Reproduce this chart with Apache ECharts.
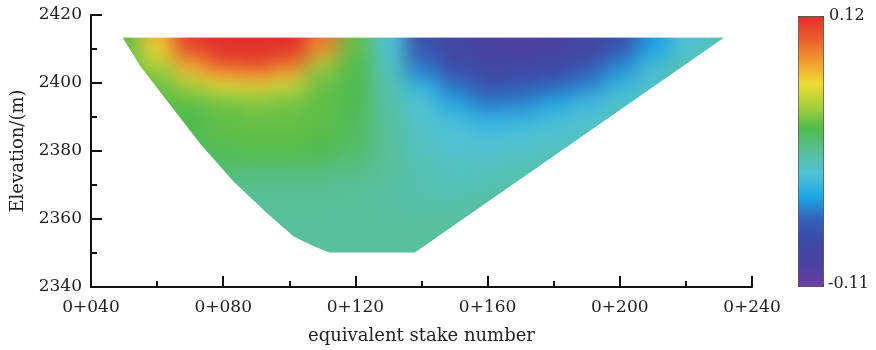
<!DOCTYPE html>
<html>
<head>
<meta charset="utf-8">
<script src="https://cdn.jsdelivr.net/npm/echarts@6/dist/echarts.min.js"></script>
<style>
html, body { margin: 0; padding: 0; background: #fff; }
.wrap { position: relative; width: 876px; height: 350px; overflow: hidden; }
.layer { position: absolute; left: 0; top: 0; width: 876px; height: 350px; }
#field { filter: blur(10px); }
</style>
</head>
<body>
<div class="wrap">
  <div id="field" class="layer"></div>
  <div id="chart" class="layer"></div>
</div>
<script>
// stake (x) and elevation (y) of the sampled cells
const stakes = [40, 50, 60, 70, 80, 90, 100, 110, 120, 130, 140, 150, 160, 170, 180, 190, 200, 210, 220, 230, 240];
const elevations = [2420, 2415, 2410, 2405, 2400, 2395, 2390, 2385, 2380, 2375, 2370, 2365, 2360, 2355, 2350, 2345];
const stepX = 10;
const stepY = 5;

// values, one row per elevation (top to bottom)
const fieldValues = [
  [0.03, 0.03, 0.075, 0.115, 0.12, 0.12, 0.12, 0.095, 0.03, -0.015, -0.065, -0.08, -0.092, -0.097, -0.092, -0.082, -0.065, -0.038, -0.015, -0.005, -0.005],
  [0.03, 0.03, 0.075, 0.115, 0.12, 0.12, 0.12, 0.095, 0.03, -0.015, -0.065, -0.08, -0.092, -0.097, -0.092, -0.082, -0.065, -0.038, -0.015, -0.005, -0.005],
  [0.028, 0.028, 0.065, 0.11, 0.12, 0.12, 0.12, 0.085, 0.028, -0.013, -0.06, -0.077, -0.088, -0.09, -0.087, -0.08, -0.064, -0.035, -0.013, -0.005, -0.005],
  [0.03, 0.03, 0.045, 0.075, 0.1, 0.105, 0.09, 0.04, 0.025, -0.006, -0.048, -0.07, -0.077, -0.076, -0.073, -0.064, -0.041, -0.018, 0.0, 0.0, 0.0],
  [0.03, 0.03, 0.03, 0.048, 0.062, 0.066, 0.055, 0.03, 0.023, -0.002, -0.027, -0.05, -0.066, -0.064, -0.058, -0.045, -0.025, -0.009, 0.0, 0.0, 0.0],
  [0.028, 0.028, 0.028, 0.028, 0.033, 0.037, 0.033, 0.028, 0.023, 0.0, -0.013, -0.035, -0.048, -0.045, -0.035, -0.022, -0.011, -0.005, 0.0, 0.0, 0.0],
  [0.025, 0.025, 0.025, 0.023, 0.028, 0.03, 0.03, 0.028, 0.021, 0.003, -0.011, -0.018, -0.028, -0.026, -0.018, -0.013, -0.005, 0.0, 0.0, 0.0, 0.0],
  [0.022, 0.022, 0.022, 0.022, 0.028, 0.028, 0.028, 0.026, 0.019, 0.005, -0.009, -0.013, -0.016, -0.014, -0.011, -0.008, 0.0, 0.0, 0.0, 0.0, 0.0],
  [0.02, 0.02, 0.02, 0.02, 0.021, 0.026, 0.026, 0.023, 0.016, 0.005, -0.006, -0.011, -0.011, -0.009, -0.006, -0.004, 0.0, 0.0, 0.0, 0.0, 0.0],
  [0.015, 0.015, 0.015, 0.015, 0.015, 0.014, 0.014, 0.012, 0.01, 0.005, -0.002, -0.006, -0.006, -0.002, 0.0, 0.0, 0.0, 0.0, 0.0, 0.0, 0.0],
  [0.008, 0.008, 0.008, 0.008, 0.008, 0.007, 0.007, 0.007, 0.005, 0.003, -0.002, -0.004, -0.002, 0.0, 0.0, 0.0, 0.0, 0.0, 0.0, 0.0, 0.0],
  [0.005, 0.005, 0.005, 0.005, 0.005, 0.005, 0.005, 0.005, 0.005, 0.003, 0.0, 0.0, 0.003, 0.003, 0.003, 0.003, 0.003, 0.003, 0.003, 0.003, 0.003],
  [0.004, 0.004, 0.004, 0.004, 0.004, 0.004, 0.004, 0.004, 0.004, 0.004, 0.004, 0.004, 0.004, 0.004, 0.004, 0.004, 0.004, 0.004, 0.004, 0.004, 0.004],
  [0.004, 0.004, 0.004, 0.004, 0.004, 0.004, 0.004, 0.004, 0.004, 0.004, 0.004, 0.004, 0.004, 0.004, 0.004, 0.004, 0.004, 0.004, 0.004, 0.004, 0.004],
  [0.004, 0.004, 0.004, 0.004, 0.004, 0.004, 0.004, 0.004, 0.004, 0.004, 0.004, 0.004, 0.004, 0.004, 0.004, 0.004, 0.004, 0.004, 0.004, 0.004, 0.004],
  [0.004, 0.004, 0.004, 0.004, 0.004, 0.004, 0.004, 0.004, 0.004, 0.004, 0.004, 0.004, 0.004, 0.004, 0.004, 0.004, 0.004, 0.004, 0.004, 0.004, 0.004]
];

// outline of the section (left slope, bottom, right slope)
const outlineX = [49.3, 54.8, 62.9, 73.0, 83.1, 93.2, 101.2, 106.3, 112.0, 138.0, 232.0];
const outlineY = [2413.5, 2404.9, 2394.7, 2382.0, 2370.9, 2361.6, 2354.8, 2352.3, 2350.0, 2350.0, 2413.5];
const leftEnd = 8;

const colorMin = -0.11;
const colorMax = 0.12;
const palette = ['#6b3fa2', '#4b41a0', '#3e49a6', '#3462b8', '#1aa8e8', '#50c2d8', '#58c09a',
  '#4fba4c', '#a6cf3a', '#eedc36', '#f29a30', '#ec5c2e', '#e0302a'];

const fontName = '"DejaVu Serif", "Liberation Serif", serif';
const gridBox = { left: 91, top: 15, width: 661, height: 274 };
const xRange = { min: 40, max: 240, interval: 40 };
const yRange = { min: 2340, max: 2420, interval: 20 };

function stakeLabel(v) {
  return '0+' + String(v).padStart(3, '0');
}

// ---------- layer 1: the coloured field (blurred by css) ----------
const cellData = [];
elevations.forEach((y, r) => {
  stakes.forEach((x, c) => cellData.push([x, y, fieldValues[r][c]]));
});

const fieldChart = echarts.init(document.getElementById('field'));
fieldChart.setOption({
  animation: false,
  grid: gridBox,
  xAxis: Object.assign({ type: 'value', show: false }, xRange),
  yAxis: Object.assign({ type: 'value', show: false }, yRange),
  visualMap: {
    show: false, type: 'continuous', dimension: 2,
    min: colorMin, max: colorMax, inRange: { color: palette }
  },
  series: [{
    type: 'custom',
    clip: true,
    data: cellData,
    renderItem: function (params, api) {
      const p0 = api.coord([api.value(0) - stepX / 2, api.value(1) + stepY / 2]);
      const p1 = api.coord([api.value(0) + stepX / 2, api.value(1) - stepY / 2]);
      return {
        type: 'rect',
        shape: { x: p0[0], y: p0[1], width: p1[0] - p0[0] + 1, height: p1[1] - p0[1] + 1 },
        style: { fill: api.visual('color') }
      };
    }
  }]
});

// ---------- layer 2: white masks, axes and colour bar ----------
const chart = echarts.init(document.getElementById('chart'));
const farL = 20, farR = 250, farT = 2430, farB = 2328;
const topY = outlineY[0];
const botY = outlineY[leftEnd];

chart.setOption({
  animation: false,
  grid: gridBox,
  xAxis: Object.assign({
    type: 'value', z: 5,
    axisLine: { show: true, lineStyle: { color: '#111', width: 2 } },
    axisTick: { show: true, inside: true, length: 11, lineStyle: { color: '#111', width: 2 } },
    minorTick: { show: true, splitNumber: 2, length: 6, lineStyle: { color: '#111', width: 2 } },
    splitLine: { show: false },
    axisLabel: { formatter: stakeLabel, fontFamily: fontName, fontSize: 17, color: '#222', margin: 12 },
    name: 'equivalent stake number', nameLocation: 'middle', nameGap: 40,
    nameTextStyle: { fontFamily: fontName, fontSize: 18, color: '#222' }
  }, xRange),
  yAxis: Object.assign({
    type: 'value', z: 5,
    axisLine: { show: true, lineStyle: { color: '#111', width: 2 } },
    axisTick: { show: true, inside: true, length: 11, lineStyle: { color: '#111', width: 2 } },
    minorTick: { show: true, splitNumber: 2, length: 6, lineStyle: { color: '#111', width: 2 } },
    splitLine: { show: false },
    axisLabel: { formatter: v => String(v), fontFamily: fontName, fontSize: 17, color: '#222', margin: 9 },
    name: 'Elevation/(m)', nameLocation: 'middle', nameGap: 64,
    nameTextStyle: { fontFamily: fontName, fontSize: 18, color: '#222' }
  }, yRange),
  visualMap: {
    type: 'continuous', seriesIndex: 1,
    min: colorMin, max: colorMax,
    left: 798, top: 16, itemWidth: 25, itemHeight: 270,
    calculable: false, text: null, showLabel: false,
    padding: 0, borderColor: '#333', borderWidth: 1,
    inRange: { color: palette }
  },
  graphic: [
    { type: 'text', left: 829, top: 8, style: { text: colorMax.toFixed(2), font: '16px ' + fontName, fill: '#222' } },
    { type: 'text', left: 828, top: 276, style: { text: colorMin.toFixed(2), font: '16px ' + fontName, fill: '#222' } }
  ],
  series: [{
    type: 'custom',
    clip: false,
    z: 1,
    data: [[0]],
    renderItem: function (params, api) {
      const pt = (x, y) => api.coord([x, y]);
      const leftPts = [pt(farL, topY)];
      for (let i = 0; i <= leftEnd; i++) leftPts.push(pt(outlineX[i], outlineY[i]));
      leftPts.push(pt(farL, botY));
      const n = outlineX.length;
      const rightPts = [pt(outlineX[n - 2], outlineY[n - 2]), pt(outlineX[n - 1], outlineY[n - 1]), pt(farR, topY), pt(farR, botY)];
      const topPts = [pt(farL, topY), pt(farR, topY), pt(farR, farT), pt(farL, farT)];
      const bottomPts = [pt(farL, botY), pt(farR, botY), pt(farR, farB), pt(farL, farB)];
      const maskStyle = { fill: '#fff', stroke: '#fff', lineWidth: 1 };
      return {
        type: 'group',
        children: [leftPts, rightPts, topPts, bottomPts].map(points => ({
          type: 'polygon', shape: { points: points }, style: maskStyle
        }))
      };
    }
  }, {
    type: 'scatter',
    data: []
  }]
});
</script>
</body>
</html>
